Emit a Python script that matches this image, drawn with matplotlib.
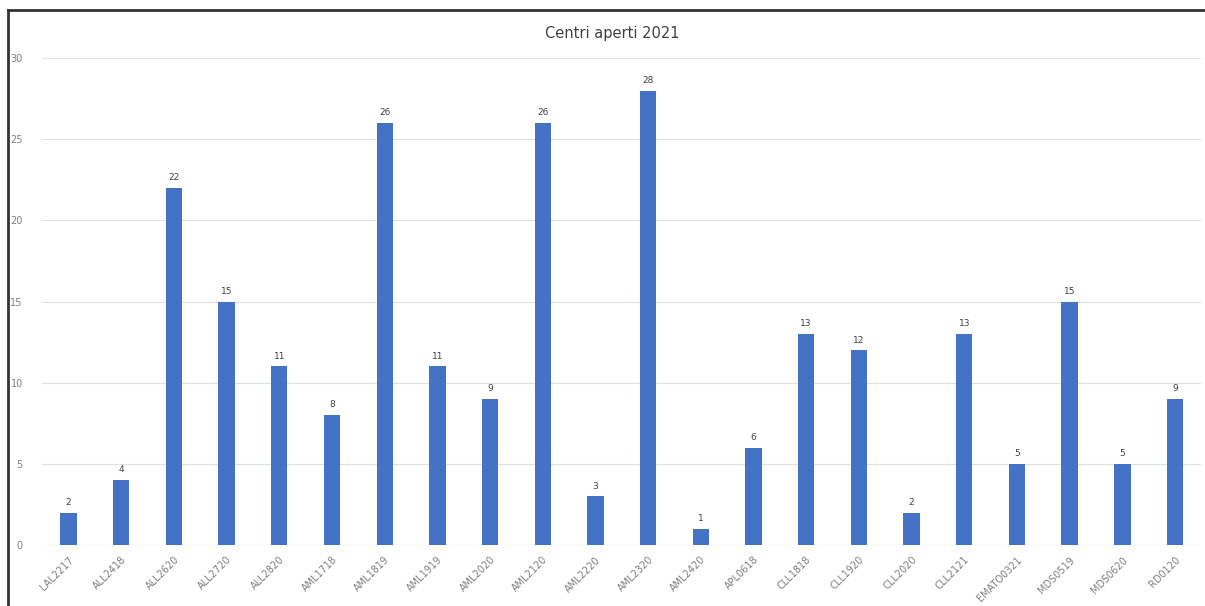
import matplotlib.pyplot as plt
from matplotlib.lines import Line2D

categories = ["LAL2217", "ALL2418", "ALL2620", "ALL2720", "ALL2820", "AML1718",
              "AML1819", "AML1919", "AML2020", "AML2120", "AML2220", "AML2320",
              "AML2420", "APL0618", "CLL1818", "CLL1920", "CLL2020", "CLL2121",
              "EMATO0321", "MDS0519", "MDS0620", "RD0120"]
centri = [2, 4, 22, 15, 11, 8, 26, 11, 9, 26, 3, 28, 1, 6, 13, 12, 2, 13, 5, 15, 5, 9]
yticks = [0, 5, 10, 15, 20, 25, 30]

fig = plt.figure(figsize=(12.05, 6.06), dpi=100)
ax = fig.add_axes([0.035, 0.1007, 0.962, 0.8033])

x = range(len(categories))
bars = ax.bar(x, centri, width=0.31, color="#4472C4", zorder=3)
for b, v in zip(bars, centri):
    ax.text(b.get_x() + b.get_width() / 2, v + 0.35, str(v), ha="center", va="bottom",
            fontsize=6.5, color="#404040")

ax.set_xlim(-0.5, len(categories) - 0.5)
ax.set_ylim(0, 30)
ax.set_yticks(yticks)
ax.set_xticks(list(x))
ax.set_xticklabels(categories, rotation=45, ha="right", rotation_mode="anchor",
                   fontsize=7, color="#7f7f7f")
ax.tick_params(axis="y", labelsize=7, labelcolor="#7f7f7f", length=0, pad=14)
ax.tick_params(axis="x", length=0, pad=7)
ax.grid(axis="y", color="#e0e0e0", linewidth=0.8, zorder=0)
for s in ax.spines.values():
    s.set_visible(False)
ax.axhline(0, color="#d9d9d9", linewidth=0.8, zorder=2)

fig.text(0.508, 0.945, "Centri aperti 2021", ha="center", va="center",
         fontsize=10.5, color="#404040")

# outer frame (top and left edges visible in the screenshot)
fig.add_artist(Line2D([0.0066, 0.0066], [0, 0.983], transform=fig.transFigure,
                      color="#333333", linewidth=2))
fig.add_artist(Line2D([0.0066, 1.0], [0.983, 0.983], transform=fig.transFigure,
                      color="#333333", linewidth=2))

fig.savefig("out.png", dpi=100)
